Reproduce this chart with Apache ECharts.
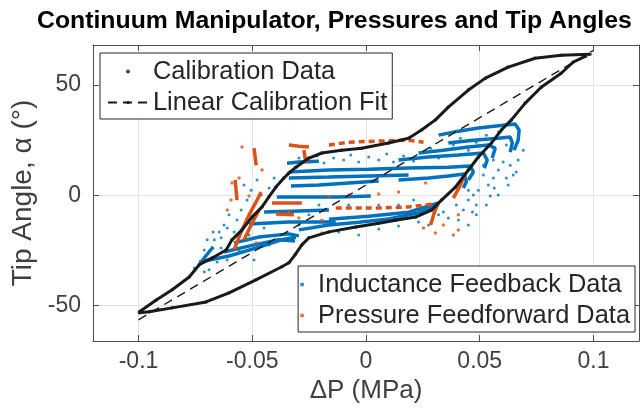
<!DOCTYPE html>
<html><head><meta charset="utf-8">
<script src="https://cdn.jsdelivr.net/npm/echarts@6/dist/echarts.min.js"></script>
<style>html,body{margin:0;padding:0;background:#fff}#c{width:642px;height:411px}</style>
</head><body><div id="c"></div>
<script>
const xTicks = [-0.1, -0.05, 0, 0.05, 0.1];
const yTicks = [-50, 0, 50];

const calibUp = [[-0.0996,-52.8],[-0.0922,-47.4],[-0.0852,-42.8],[-0.0777,-37.0],[-0.0733,-31.5],[-0.0676,-28.4],[-0.0615,-24.8],[-0.0589,-20.2],[-0.0545,-15.7],[-0.0501,-9.9],[-0.0457,-5.3],[-0.0427,-0.8],[-0.0396,3.7],[-0.0361,7.8],[-0.0339,10.0],[-0.0308,12.7],[-0.0251,16.8],[-0.0194,19.1],[-0.0107,20.4],[-0.0019,21.3],[0.0099,23.6],[0.0187,25.8],[0.0244,29.5],[0.0305,34.1],[0.0362,39.9],[0.0450,47.6],[0.0525,53.0],[0.0625,58.0],[0.0743,62.0],[0.0858,63.4],[0.0985,63.8]];
const calibDown = [[0.0966,62.9],[0.0910,60.2],[0.0858,55.2],[0.0770,48.9],[0.0700,41.7],[0.0639,34.1],[0.0595,29.5],[0.0551,23.6],[0.0494,17.3],[0.0450,11.4],[0.0393,3.7],[0.0332,-2.2],[0.0288,-6.7],[0.0218,-9.9],[0.0130,-11.3],[0.0056,-12.7],[-0.0045,-14.4],[-0.0163,-16.6],[-0.0251,-19.3],[-0.0282,-22.5],[-0.0312,-27.0],[-0.0339,-30.6],[-0.0370,-32.4],[-0.0484,-38.3],[-0.0602,-44.2],[-0.0703,-48.3],[-0.0852,-51.0],[-0.0953,-52.8],[-0.0996,-53.2]];
const fitLine = [[-0.1,-56.4],[0.1,65.6]];

const inductStreaks = [
  [[0.0319,27.2],[0.0406,29.0],[0.0494,30.4],[0.0603,31.7],[0.0656,32.2],[0.0673,29.5],[0.0669,24.9],[0.0651,20.4]],
  [[0.0362,23.6],[0.0472,24.9],[0.0581,25.8],[0.0634,26.3],[0.0643,23.6],[0.0634,19.5]],
  [[0.0231,19.1],[0.0340,20.4],[0.0450,21.8],[0.0538,22.7],[0.0568,21.3],[0.0555,16.8]],
  [[0.0143,15.9],[0.0275,17.3],[0.0406,18.2],[0.0516,19.1],[0.0533,15.9],[0.0520,12.3]],
  [[-0.0339,10.5],[-0.0163,11.4],[0.0012,11.8],[0.0187,12.3],[0.0362,12.7],[0.0459,13.2],[0.0472,10.5],[0.0450,6.9]],
  [[0.0143,6.9],[0.0275,7.8],[0.0362,8.7],[0.0432,9.6],[0.0441,6.0],[0.0428,3.3]],
  [[-0.0339,7.8],[-0.0163,8.2],[0.0012,8.7],[0.0187,9.1]],
  [[-0.0330,4.2],[-0.0207,4.6],[-0.0076,5.5],[0.0056,6.4]],
  [[-0.0392,-0.8],[-0.0251,-0.8],[-0.0120,-0.8],[0.0021,-0.4]],
  [[-0.0347,14.5],[-0.0295,15.0],[-0.0207,15.4]],
  [[-0.0295,-15.7],[-0.0163,-13.5],[-0.0032,-12.2],[0.0099,-10.8],[0.0231,-8.0],[0.0319,-4.4]],
  [[-0.0163,-10.9],[0.0012,-9.5],[0.0187,-7.7],[0.0319,-3.5]],
  [[-0.0733,-30.2],[-0.0602,-27.5],[-0.0470,-23.5],[-0.0361,-19.9],[-0.0308,-19.0]],
  [[-0.0624,-25.7],[-0.0492,-22.5],[-0.0383,-20.2],[-0.0312,-20.7]],
  [[-0.0580,-21.6],[-0.0470,-18.9],[-0.0339,-17.5],[-0.0295,-18.4]],
  [[-0.0514,-13.0],[-0.0339,-12.1],[-0.0133,-12.1]],
  [[-0.0448,-7.6],[-0.0295,-7.1],[-0.0163,-6.7]],
  [[-0.0733,-31.5],[-0.0711,-28.4],[-0.0690,-25.7],[-0.0671,-23.4]]
];
const inductDots = [[-0.0295,16.8],[-0.0251,15.0],[-0.0216,17.7],[-0.0185,14.6],[-0.0142,16.8],[-0.0098,15.9],[-0.0067,18.2],[-0.0032,15.0],[0.0012,17.3],[0.0056,15.9],[0.0091,18.6],[0.0121,15.0],[0.0165,17.7],[0.0209,15.5],[0.0253,19.5],[0.0284,21.3],[0.0319,16.8],[0.0384,22.7],[0.0415,25.8],[0.0450,20.4],[0.0485,24.0],[0.0529,27.2],[0.0582,28.6],[0.0617,22.7],[0.0560,15.9],[0.0603,15.0],[0.0582,11.4],[0.0516,9.1],[0.0538,4.6],[0.0494,2.3],[0.0472,0.1],[0.0560,7.8],[0.0450,-2.2],[0.0397,-4.4],[0.0428,-6.7],[-0.0667,-20.2],[-0.0645,-16.6],[-0.0624,-13.5],[-0.0602,-8.9],[-0.0567,-11.2],[-0.0549,-6.7],[-0.0523,-2.2],[-0.0505,2.3],[-0.0536,4.6],[-0.0479,6.9],[-0.0461,0.1],[-0.0426,3.3],[-0.0404,7.8],[-0.0610,-29.3],[-0.0654,-30.2],[-0.0690,-33.8],[-0.0711,-34.7],[-0.0755,-32.9],[-0.0637,-23.9],[-0.0580,-16.6],[-0.0558,-24.8],[-0.0514,-18.0],[-0.0448,-14.8],[-0.0492,-29.3],[-0.0426,-22.5],[-0.0120,-16.6],[-0.0032,-18.0],[0.0056,-15.3],[0.0143,-13.9],[0.0231,-12.1],[0.0340,-7.6],[0.0362,-10.3],[0.0275,-13.5],[-0.0251,-8.9],[-0.0207,-4.4],[-0.0076,-4.4],[0.0056,-4.4],[0.0143,-4.4],[0.0209,-2.2],[-0.0295,-13.5],[0.0669,15.9],[0.0691,20.4],[0.0647,9.1],[0.0625,4.6],[0.0581,0.1],[0.0529,-4.4],[0.0485,-8.9],[0.0450,-13.5],[0.0406,-11.2],[0.0319,-8.9],[0.0634,13.6],[0.0660,10.5],[0.0617,7.8],[0.0564,3.3],[0.0546,-0.4],[0.0485,-4.4],[0.0468,-7.6],[0.0450,2.3],[0.0516,13.6],[-0.0698,-20.2],[-0.0672,-16.6],[-0.0711,-24.8],[-0.0637,-19.3],[-0.0610,-14.8]];

const pressureStreaks = [
  [[-0.0339,22.7],[-0.0295,22.2],[-0.0251,21.8]],
  [[-0.0273,20.4],[-0.0264,14.6]],
  [[-0.0492,21.3],[-0.0483,13.6]],
  [[-0.0580,-24.8],[-0.0549,-16.6],[-0.0514,-8.9],[-0.0479,-2.2],[-0.0461,1.4]],
  [[-0.0536,-20.2],[-0.0505,-13.5],[-0.0470,-6.7]],
  [[-0.0575,6.9],[-0.0567,-2.2]],
  [[-0.0413,-3.5],[-0.0282,-3.5]],
  [[-0.0396,-8.5],[-0.0317,-8.9]],
  [[0.0384,-1.3],[0.0415,4.6],[0.0437,10.0]],
  [[0.0284,-13.5],[0.0301,-7.6],[0.0319,-3.1]]
];
const pressureDashed = [
  [[-0.0163,22.7],[-0.0076,24.0],[0.0056,24.5],[0.0187,24.9],[0.0253,24.0]],
  [[-0.0133,-5.8],[0.0056,-5.8],[0.0187,-5.3],[0.0297,-4.0]]
];
const pressureDots = [[-0.0163,-0.8],[-0.0076,0.1],[0.0262,5.5],[0.0305,-17.1],[0.0406,-15.7],[0.0253,-14.8],[-0.0194,-17.1],[-0.0545,21.8],[-0.0483,-21.6],[0.0340,-13.5],[0.0384,-18.0],[-0.0589,5.5],[-0.0558,7.8],[-0.0457,11.4],[0.0056,0.5],[0.0143,1.4],[-0.0339,-7.6],[-0.0295,-10.3],[-0.0514,-0.4],[-0.0610,-6.7],[-0.0593,-2.2],[0.0406,-8.9],[-0.0194,-11.3]];

const BLUE = '#0072BD', ORANGE = '#D95319', BLACK = '#1a1a1a';
const FONT = '"Liberation Sans", Arial, Helvetica, sans-serif';

const series = [];
series.push({type:'scatter', name:'Calibration Data', data: calibUp.concat(calibDown), symbolSize:3.5, itemStyle:{color:BLACK}, z:4});
series.push({type:'line', name:'Linear Calibration Fit', data: fitLine, symbol:'none', z:5,
  lineStyle:{color:BLACK, width:1.4, type:[9,6]}, itemStyle:{color:BLACK}});
series.push({type:'scatter', name:'Inductance Feedback Data', data: inductDots, symbolSize:3, itemStyle:{color:BLUE}, z:2});
series.push({type:'scatter', name:'Pressure Feedforward Data', data: pressureDots, symbolSize:3.5, itemStyle:{color:ORANGE}, z:3});
inductStreaks.forEach(s => series.push({type:'line', name:'Inductance Feedback Data', data:s, symbol:'none', z:2,
  lineStyle:{color:BLUE, width:3.5}, itemStyle:{color:BLUE}}));
pressureStreaks.forEach(s => series.push({type:'line', name:'Pressure Feedforward Data', data:s, symbol:'none', z:3,
  lineStyle:{color:ORANGE, width:3.5}, itemStyle:{color:ORANGE}}));
pressureDashed.forEach(s => series.push({type:'line', name:'Pressure Feedforward Data', data:s, symbol:'none', z:3,
  lineStyle:{color:ORANGE, width:3.5, type:[6,4]}, itemStyle:{color:ORANGE}}));
[calibUp, calibDown].forEach(s => series.push({type:'line', name:'Calibration Data', data:s, symbol:'none', z:4,
  lineStyle:{color:BLACK, width:3}, itemStyle:{color:BLACK}}));

const axisCol = '#4d4d4d', textCol = '#404040';
const chart = echarts.init(document.getElementById('c'), null, {renderer:'canvas'});
chart.setOption({
  animation:false,
  backgroundColor:'#fff',
  textStyle:{fontFamily:FONT},
  title:{text:'Continuum Manipulator, Pressures and Tip Angles', left:32, top:4,
    textStyle:{fontFamily:FONT, fontSize:24.8, fontWeight:'bold', color:'#000'}},
  grid:{left:93, right:3, top:45, bottom:70, containLabel:false},
  xAxis:[{type:'value', min:-0.12, max:0.12, position:'bottom',
      name:'ΔP (MPa)', nameLocation:'middle', nameGap:35,
      nameTextStyle:{fontFamily:FONT, fontSize:26, color:textCol},
      axisLine:{show:true, onZero:false, lineStyle:{color:axisCol, width:1}},
      axisTick:{inside:true, length:6, customValues:xTicks, lineStyle:{color:axisCol}},
      axisLabel:{customValues:xTicks, margin:9, fontFamily:FONT, fontSize:23, color:textCol},
      splitLine:{show:true, lineStyle:{color:'#e3e3e3', width:1}}},
    {type:'value', min:-0.12, max:0.12, position:'top',
      axisLine:{show:true, onZero:false, lineStyle:{color:axisCol, width:1}},
      axisTick:{inside:true, length:6, customValues:xTicks, lineStyle:{color:axisCol}},
      axisLabel:{show:false}, splitLine:{show:false}}],
  yAxis:[{type:'value', min:-66, max:68, position:'left',
      name:'Tip Angle, α (°)', nameLocation:'middle', nameGap:49, nameRotate:90,
      nameTextStyle:{fontFamily:FONT, fontSize:28, color:textCol},
      axisLine:{show:true, onZero:false, lineStyle:{color:axisCol, width:1}},
      axisTick:{show:true, inside:true, length:6, customValues:yTicks, lineStyle:{color:axisCol}},
      axisLabel:{customValues:yTicks, margin:12, fontFamily:FONT, fontSize:23, color:textCol},
      splitLine:{show:true, lineStyle:{color:'#e3e3e3', width:1}}},
    {type:'value', min:-66, max:68, position:'right',
      axisLine:{show:true, onZero:false, lineStyle:{color:axisCol, width:1}},
      axisTick:{show:true, inside:true, length:6, customValues:yTicks, lineStyle:{color:axisCol}},
      axisLabel:{show:false}, splitLine:{show:false}}],
  legend:[
    {orient:'vertical', left:100, top:53, padding:[6,5,4,7], itemWidth:40, itemHeight:4, itemGap:6,
      backgroundColor:'#fff', borderColor:'#262626', borderWidth:1, borderRadius:0,
      textStyle:{fontFamily:FONT, fontSize:25.4, color:'#262626'},
      data:[{name:'Calibration Data', icon:'circle'}, {name:'Linear Calibration Fit'}]},
    {orient:'vertical', right:7, top:266, padding:[6,5,4,2], itemWidth:22, itemHeight:4, itemGap:6,
      backgroundColor:'#fff', borderColor:'#262626', borderWidth:1, borderRadius:0,
      textStyle:{fontFamily:FONT, fontSize:25.4, color:'#262626'},
      data:[{name:'Inductance Feedback Data', icon:'circle'}, {name:'Pressure Feedforward Data', icon:'circle'}]}
  ],
  series: series
});
</script>
</body></html>
